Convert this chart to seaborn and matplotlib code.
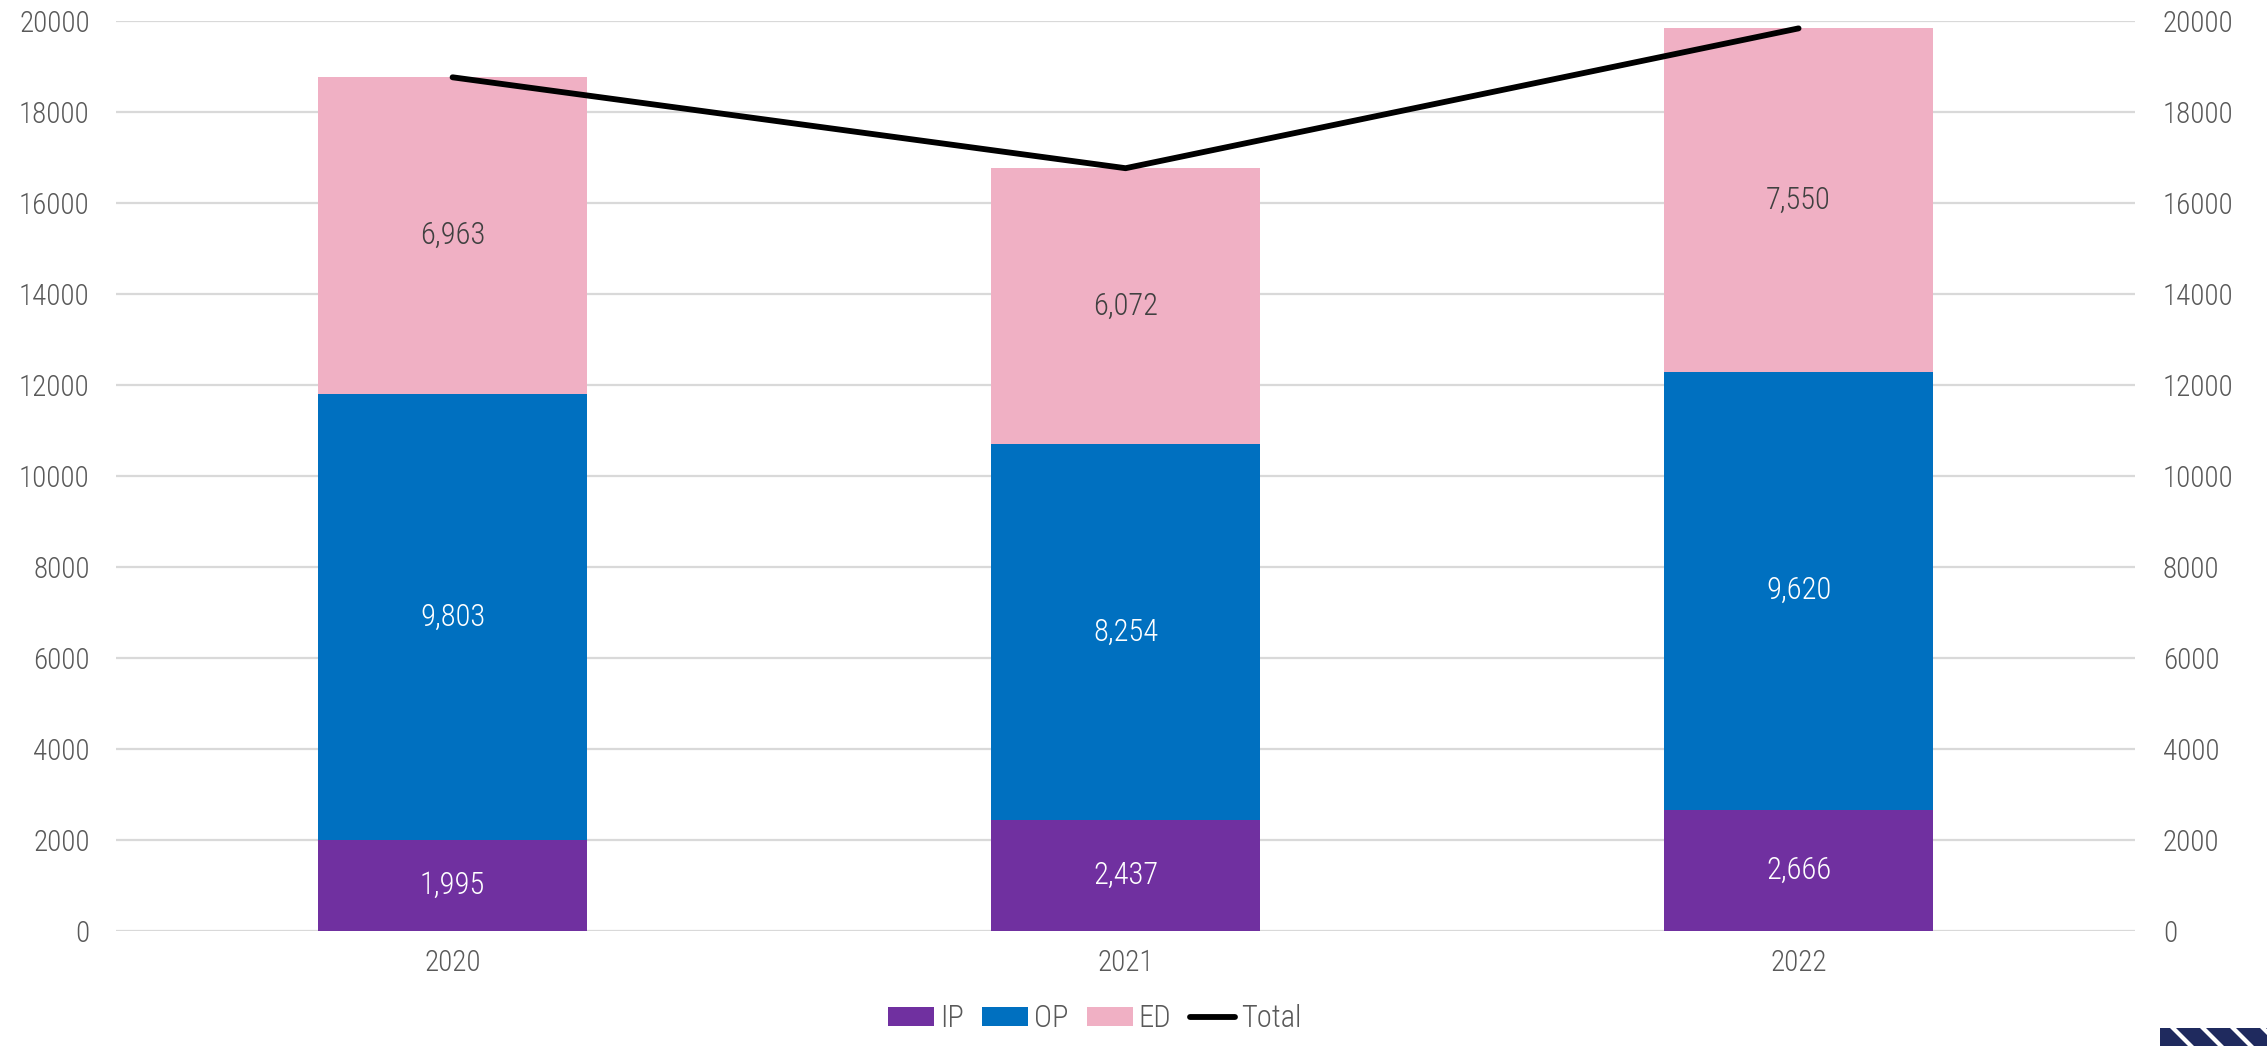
import numpy as np
import matplotlib
matplotlib.use("Agg")
import matplotlib.pyplot as plt
from matplotlib import font_manager
from matplotlib.patches import Patch, Polygon, Rectangle
from matplotlib.lines import Line2D
import seaborn as sns

years = ["2020", "2021", "2022"]
ip = [1995, 2437, 2666]
op = [9803, 8254, 9620]
ed = [6963, 6072, 7550]
series_names = ["IP", "OP", "ED", "Total"]
y_ticks = [0, 2000, 4000, 6000, 8000, 10000, 12000, 14000, 16000, 18000, 20000]

C_IP = "#7030A0"
C_OP = "#0070C0"
C_ED = "#F0B0C4"
C_TXT = "#595959"
C_GRID = "#D9D9D9"

sns.set_theme(style="white")
available = {f.name for f in font_manager.fontManager.ttflist}
family = next((f for f in ["Liberation Sans Narrow", "Roboto Condensed", "Open Sans Condensed",
                           "Roboto", "DejaVu Sans"] if f in available), "DejaVu Sans")
plt.rcParams["font.family"] = [family, "DejaVu Sans"]
plt.rcParams["font.weight"] = "light"

ip_a = np.array(ip)
op_a = np.array(op)
ed_a = np.array(ed)
total = ip_a + op_a + ed_a
lower2 = ip_a + op_a

fig = plt.figure(figsize=(22.67, 10.46), dpi=100)
ax = fig.add_axes([0.0512, 0.110, 0.8906, 0.870])

# stacked bars drawn back to front: full stack, IP+OP, IP
bar_kw = dict(width=0.4, saturation=1, ax=ax, linewidth=0, edgecolor="none")
sns.barplot(x=years, y=total, color=C_ED, zorder=2, **bar_kw)
sns.barplot(x=years, y=lower2, color=C_OP, zorder=3, **bar_kw)
sns.barplot(x=years, y=ip_a, color=C_IP, zorder=4, **bar_kw)

ax.set_xlim(-0.5, 2.5)
ax.set_ylim(0, 20000)
ax.set_yticks(y_ticks)
ax.set_yticklabels([str(t) for t in y_ticks])
ax.yaxis.grid(True, color=C_GRID, linewidth=1.6, zorder=0)
ax.set_axisbelow(True)
for s in ax.spines.values():
    s.set_visible(False)
ax.tick_params(axis="both", length=0, labelsize=21, labelcolor=C_TXT)
ax.tick_params(axis="y", pad=19)
ax.tick_params(axis="x", pad=13)
ax.set_xlabel("")
ax.set_ylabel("")

# segment value labels
for i in range(len(years)):
    ax.text(i, ip_a[i] / 2, f"{ip_a[i]:,}", ha="center", va="center", color="white", fontsize=22, zorder=6)
    ax.text(i, ip_a[i] + op_a[i] / 2, f"{op_a[i]:,}", ha="center", va="center", color="white", fontsize=22, zorder=6)
    ax.text(i, lower2[i] + ed_a[i] / 2, f"{ed_a[i]:,}", ha="center", va="center", color="#404040", fontsize=22, zorder=6)

# total line on the secondary axis
ax2 = ax.twinx()
sns.lineplot(x=np.arange(len(years)), y=total, color="black", linewidth=4.2, ax=ax2,
             solid_capstyle="round", solid_joinstyle="round", zorder=7)
ax2.set_ylim(0, 20000)
ax2.set_yticks(y_ticks)
ax2.set_yticklabels([str(t) for t in y_ticks])
ax2.tick_params(axis="y", length=0, labelsize=21, labelcolor=C_TXT, pad=20)
ax2.set_ylabel("")
for s in ax2.spines.values():
    s.set_visible(False)
ax2.grid(False)

handles = [Patch(facecolor=C_IP, edgecolor="none"), Patch(facecolor=C_OP, edgecolor="none"),
           Patch(facecolor=C_ED, edgecolor="none"),
           Line2D([0], [0], color="black", linewidth=4.2, solid_capstyle="round")]
fig.legend(handles, series_names, loc="lower center", bbox_to_anchor=(0.483, -0.014), ncol=4,
           frameon=False, fontsize=22, labelcolor=C_TXT, handlelength=1.5, handleheight=0.55,
           handletextpad=0.2, columnspacing=0.6)

# corner mark
W, H = 2267.0, 1046.0
x0, x1, y0, y1 = 2160 / W, 1.0, 0.0, 18 / H
fig.patches.append(Rectangle((x0, y0), x1 - x0, y1 - y0, transform=fig.transFigure,
                             facecolor="#1F2A5E", edgecolor="none"))
for k in range(5):
    sx = 2160 + 10 + k * 30
    pts = [((sx) / W, y1), ((sx + 6) / W, y1), ((sx + 24) / W, y0), ((sx + 18) / W, y0)]
    fig.patches.append(Polygon(pts, closed=True, transform=fig.transFigure,
                               facecolor="white", edgecolor="none"))

fig.savefig("out.png", dpi=100)
